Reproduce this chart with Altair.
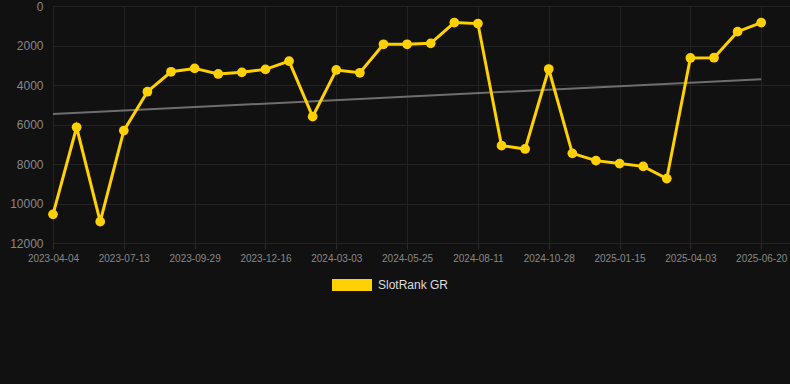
import altair as alt
import pandas as pd

tick_labels = ["2023-04-04", "2023-07-13", "2023-09-29", "2023-12-16", "2024-03-03",
               "2024-05-25", "2024-08-11", "2024-10-28", "2025-01-15", "2025-04-03",
               "2025-06-20"]
point_index = list(range(31))
rank_values = [10550, 6140, 10920, 6310, 4340, 3330, 3160, 3440, 3360, 3210, 2790,
               5600, 3240, 3380, 1940, 1940, 1890, 840, 890, 7070, 7240, 3190,
               7460, 7830, 7980, 8120, 8740, 2630, 2620, 1300, 840]
series_name = "SlotRank GR"

df = pd.DataFrame({"idx": point_index, "rank": rank_values, "series": series_name})

GOLD = "#FFD100"
label_expr = "[" + ",".join("'%s'" % t for t in tick_labels) + "][round(datum.value/3)]"

x_enc = alt.X("idx:Q",
              scale=alt.Scale(domain=[0, 31.22], nice=False, zero=False),
              axis=alt.Axis(values=list(range(0, 31, 3)), labelExpr=label_expr,
                            title=None, domain=False, grid=True, gridColor="#232323",
                            tickColor="#2a2a2a", tickSize=6, labelFontSize=10,
                            labelColor="#888888", labelFont="Liberation Sans",
                            labelPadding=4, labelFlush=False))
y_enc = alt.Y("rank:Q",
              scale=alt.Scale(domain=[0, 12000], reverse=True, nice=False),
              axis=alt.Axis(values=list(range(0, 12001, 2000)), title=None, format="d",
                            domain=False, ticks=False, grid=True, gridColor="#232323",
                            labelFontSize=12, labelColor="#888888",
                            labelFont="Liberation Sans", labelPadding=10))

color_enc = alt.Color("series:N",
                      scale=alt.Scale(domain=[series_name], range=[GOLD]),
                      legend=alt.Legend(title=None, orient="none", legendX=279, legendY=259,
                                        symbolType="M-1,-0.3H1V0.3H-1Z", symbolSize=1600,
                                        symbolFillColor=GOLD, symbolStrokeColor=GOLD,
                                        symbolStrokeWidth=0, labelFontSize=12,
                                        labelColor="#dddddd", labelFont="Liberation Sans",
                                        labelOffset=6, padding=0))

base = alt.Chart(df)

trend = base.transform_regression("idx", "rank", method="linear").mark_line(
    color="#6e6e6e", strokeWidth=2).encode(x=x_enc, y=y_enc)

line = base.mark_line(strokeWidth=3).encode(x=x_enc, y=y_enc, color=color_enc)
points = base.mark_circle(size=95, opacity=1).encode(
    x=x_enc, y=y_enc, color=alt.Color("series:N", scale=alt.Scale(domain=[series_name], range=[GOLD]), legend=None))

chart = alt.layer(trend, line, points).properties(
    width=737, height=237,
    autosize=alt.AutoSizeParams(type="none"),
    padding={"left": 53, "top": 6, "right": 0, "bottom": 141},
    background="#111111",
).configure_view(stroke=None)

chart.save("out.html", embed_options={"renderer": "svg", "actions": False})
